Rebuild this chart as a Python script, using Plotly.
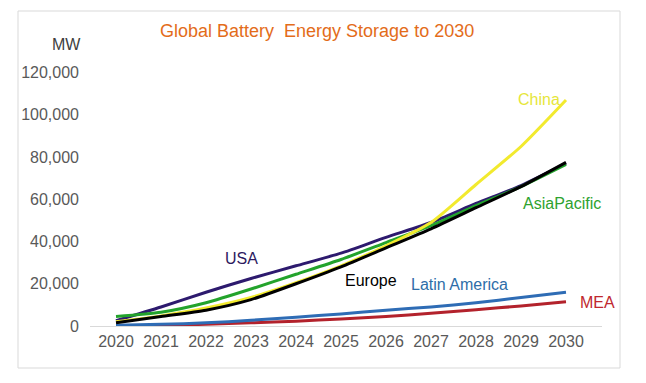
import plotly.graph_objects as go

years = [2020, 2021, 2022, 2023, 2024, 2025, 2026, 2027, 2028, 2029, 2030]
usa = [2500, 9000, 16000, 22500, 28500, 34500, 42000, 49000, 58000, 66500, 77000]
asia_pacific = [4500, 6500, 11000, 17500, 24500, 31500, 39500, 47500, 57000, 66000, 76500]
china = [2000, 4800, 8500, 13500, 20500, 28500, 38000, 49000, 67000, 85000, 107000]
europe = [1500, 4500, 7500, 12500, 20000, 28000, 37000, 46000, 56000, 66000, 77500]
latin_america = [300, 800, 1500, 2700, 4200, 5700, 7500, 9000, 11000, 13500, 16000]
mea = [0, 300, 800, 1500, 2300, 3300, 4500, 6000, 7700, 9500, 11500]

y_ticks = [0, 20000, 40000, 60000, 80000, 100000, 120000]
y_tick_text = ["0", "20,000", "40,000", "60,000", "80,000", "100,000", "120,000"]

series = [
    ("MEA", mea, "#b3222c"),
    ("Latin America", latin_america, "#2e6cb5"),
    ("USA", usa, "#2d1a6e"),
    ("AsiaPacific", asia_pacific, "#23a32c"),
    ("China", china, "#f2ea2e"),
    ("Europe", europe, "#000000"),
]

labels = [
    ("USA", 2022.78, 32150, "#2d1a5e"),
    ("Europe", 2025.67, 21750, "#000000"),
    ("Latin America", 2027.64, 19860, "#2e6da8"),
    ("MEA", 2030.69, 11350, "#c0282e"),
    ("AsiaPacific", 2029.91, 58150, "#2ea22e"),
    ("China", 2029.4, 107300, "#e6e63a"),
]

fig = go.Figure()
for name, vals, color in series:
    fig.add_trace(go.Scatter(x=years, y=vals, mode="lines", name=name,
                             line=dict(color=color, width=3, shape="spline", smoothing=0.6)))

for text, x, y, color in labels:
    fig.add_annotation(x=x, y=y, text=text, showarrow=False,
                       xanchor="center", yanchor="middle",
                       font=dict(size=16, color=color, family="Liberation Sans, Arial"))

fig.add_annotation(xref="paper", yref="paper", x=(317 - 90) / 512, y=(326 - 31) / 264,
                   xanchor="center", yanchor="middle",
                   text="Global Battery  Energy Storage to 2030", showarrow=False,
                   font=dict(size=18, color="#e36c1a", family="Liberation Sans, Arial"))
fig.add_annotation(xref="paper", yref="paper", x=(66 - 90) / 512, y=(326 - 44) / 264,
                   xanchor="center", yanchor="middle",
                   text="MW", showarrow=False,
                   font=dict(size=16, color="#404040", family="Liberation Sans, Arial"))

fig.add_shape(type="rect", xref="paper", yref="paper",
              x0=(18 - 90) / 512, x1=(620 - 90) / 512,
              y0=(326 - 368) / 264, y1=(326 - 11) / 264,
              line=dict(color="#d9d9d9", width=1), fillcolor="rgba(0,0,0,0)", layer="below")

fig.update_layout(
    width=646, height=383,
    margin=dict(l=82, r=52, t=54, b=65),
    paper_bgcolor="white", plot_bgcolor="white",
    showlegend=False,
    font=dict(family="Liberation Sans, Arial", size=16, color="#595959"),
    xaxis=dict(range=[2020 - 26 / 45, 2030 + 36 / 45], tickmode="array", tickvals=years,
               ticktext=[str(y) for y in years], showgrid=False, zeroline=False,
               showline=False, ticks="", ticklabelstandoff=4),
    yaxis=dict(range=[0, 125000], tickmode="array", tickvals=y_ticks, ticktext=y_tick_text,
               showgrid=False, zeroline=True, zerolinecolor="#d9d9d9", zerolinewidth=1,
               showline=False, ticks="", ticklabelstandoff=10),
)

fig.write_html("out.html")
